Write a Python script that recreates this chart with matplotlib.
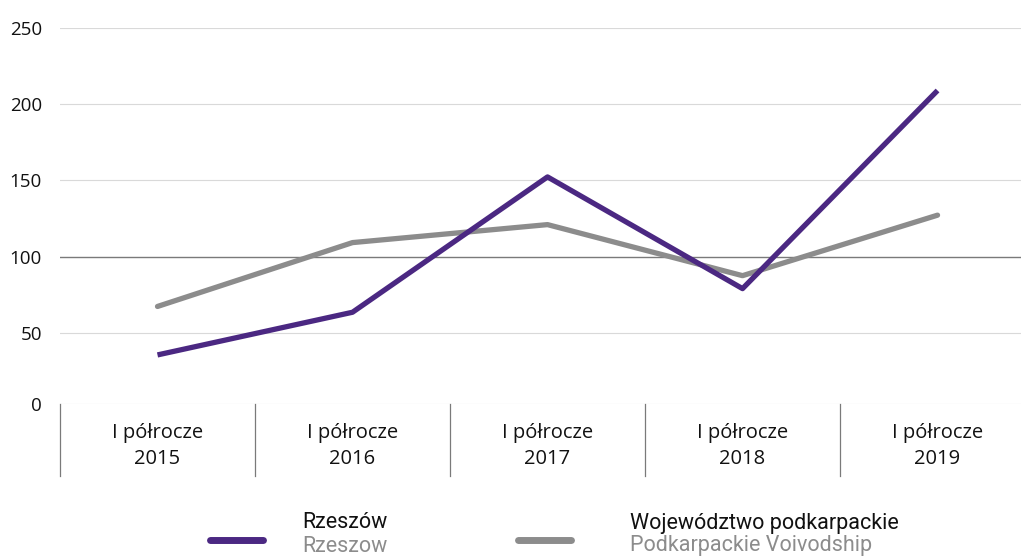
import matplotlib
matplotlib.use("Agg")
import matplotlib.pyplot as plt
from matplotlib.lines import Line2D

categories = ["I półrocze\n2015", "I półrocze\n2016", "I półrocze\n2017", "I półrocze\n2018", "I półrocze\n2019"]
rzeszow = [35.5, 63.5, 152.3, 79, 209]
podkarpackie = [67.3, 109.2, 121, 87.5, 127.2]
yticks = [50, 100, 150, 200, 250]
ytick_labels = ["50", "100", "150", "200", "250"]

PURPLE = "#4B2882"
GRAY = "#8C8C8C"
FONT = ["Open Sans", "DejaVu Sans"]

W, H = 1021, 556
fig = plt.figure(figsize=(W / 100, H / 100), dpi=100)

ax_left, ax_right = 60 / W, 1.0
ax_top, ax_bottom = 1 - 28 / H, 1 - 404 / H
ax = fig.add_axes([ax_left, ax_bottom, ax_right - ax_left, ax_top - ax_bottom])

ymin = 3.3
ax.set_ylim(ymin, 250)
ax.set_xlim(-0.5, 4.428)

x = list(range(len(categories)))
ax.plot(x, podkarpackie, color=GRAY, lw=3.8, solid_capstyle="round", clip_on=False, zorder=3)
ax.plot(x, rzeszow, color=PURPLE, lw=3.8, solid_capstyle="butt", clip_on=False, zorder=4)

for t in yticks:
    if t == 100:
        ax.axhline(t, color="#7a7a7a", lw=1.0, zorder=2)
    else:
        ax.axhline(t, color="#d9d9d9", lw=0.8, zorder=1)
ax.axhline(ymin, color="#d9d9d9", lw=0.8, zorder=1)

for s in ax.spines.values():
    s.set_visible(False)
ax.set_xticks([])
ax.set_yticks([ymin] + yticks)
ax.set_yticklabels(["0"] + ytick_labels, fontsize=13.5, family=FONT, color="#111111")
ax.tick_params(axis="y", length=0, pad=13)

# category separators and labels
sep_top = ax_bottom
sep_bot = 1 - 476 / H
for i in range(len(categories) + 1):
    xd = i - 0.5
    xf = ax.transData.transform((xd, 0))[0] / W
    if xf <= 1.0:
        fig.add_artist(Line2D([xf, xf], [sep_bot, sep_top], color="#7a7a7a", lw=0.9))
for i, c in enumerate(categories):
    xf = ax.transData.transform((i, 0))[0] / W
    fig.text(xf, 1 - 446 / H, c, ha="center", va="center", fontsize=14.5,
             family=FONT, color="#111111", linespacing=1.42)

# legend
LFONT = ["Roboto", "DejaVu Sans"]
fig.add_artist(Line2D([210 / W, 263 / W], [1 - 540 / H] * 2, color=PURPLE, lw=5, solid_capstyle="round"))
fig.add_artist(Line2D([518 / W, 571 / W], [1 - 540 / H] * 2, color=GRAY, lw=5, solid_capstyle="round"))
fig.text(302 / W, 1 - 523 / H, "Rzeszów", fontsize=15.5, family=LFONT, color="#111111", va="center")
fig.text(302 / W, 1 - 546 / H, "Rzeszow", fontsize=15.5, family=LFONT, color="#8C8C8C", va="center")
fig.text(630 / W, 1 - 523 / H, "Województwo podkarpackie", fontsize=15.5, family=LFONT, color="#111111", va="center")
fig.text(630 / W, 1 - 546 / H, "Podkarpackie Voivodship", fontsize=15.5, family=LFONT, color="#8C8C8C", va="center")

fig.savefig("out.png", dpi=100)
